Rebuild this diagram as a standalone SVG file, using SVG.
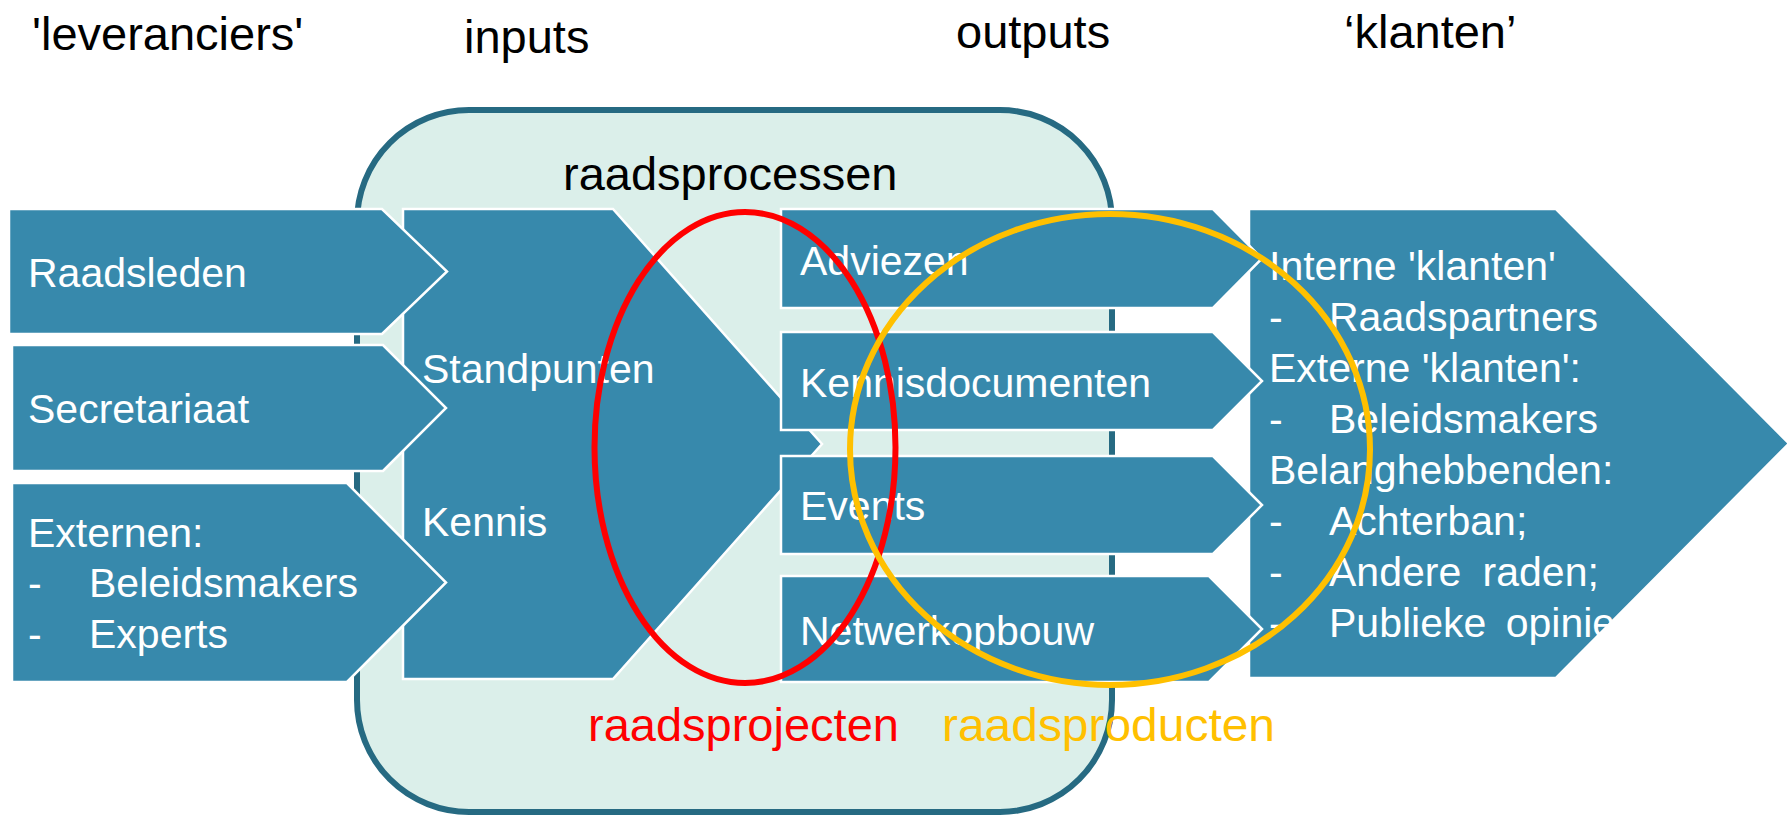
<svg xmlns="http://www.w3.org/2000/svg" width="1787" height="815" viewBox="0 0 1787 815">
<style>
.hdr{font-family:"Liberation Sans",Arial,sans-serif;font-size:47px;fill:#000}
.box{fill:#3789AC;stroke:#FFFFFF;stroke-width:2.5}
.t{font-family:"Liberation Sans",Arial,sans-serif;font-size:41px;fill:#FFFFFF}
.lbl{font-family:"Liberation Sans",Arial,sans-serif;font-size:47px}
</style>
<rect width="1787" height="815" fill="#FFFFFF"/>
<g id="headers">
<text class="hdr" x="32" y="50">'leveranciers'</text>
<text class="hdr" x="464" y="53" font-size="49">inputs</text>
<text class="hdr" x="956" y="48" font-size="49">outputs</text>
<text class="hdr" x="1344" y="48" font-size="48">‘klanten’</text>
</g>
<g id="raadsprocessen">
<rect x="357" y="110" width="755" height="702" rx="112" ry="112" fill="#DBEFEA" stroke="#266A82" stroke-width="6"/>
<text class="hdr" x="563" y="190">raadsprocessen</text>
</g>
<g id="inputs-block">
<path class="box" d="M403,209 L613,209 L822,444 L613,679 L403,679 Z"/>
<text class="t" x="422" y="383">Standpunten</text>
<text class="t" x="422" y="536">Kennis</text>
</g>
<g id="raadsleden">
<path class="box" d="M9,209 L382,209 L447,271.5 L382,334 L9,334 Z"/>
<text class="t" x="28" y="287">Raadsleden</text>
</g>
<g id="secretariaat">
<path class="box" d="M12,345 L383,345 L446,408 L383,471 L12,471 Z"/>
<text class="t" x="28" y="423">Secretariaat</text>
</g>
<g id="externen">
<path class="box" d="M12,483 L347,483 L446,582.5 L347,682 L12,682 Z"/>
<text class="t" x="28" y="547">Externen:</text>
<text class="t" x="28" y="597">-</text>
<text class="t" x="89" y="597">Beleidsmakers</text>
<text class="t" x="28" y="648">-</text>
<text class="t" x="89" y="648">Experts</text>
</g>
<g id="klanten">
<path class="box" d="M1249,209 L1556,209 L1789,443.5 L1556,678 L1249,678 Z"/>
<text class="t" x="1269" y="280">Interne 'klanten'</text>
<text class="t" x="1269" y="331">-</text>
<text class="t" x="1329" y="331">Raadspartners</text>
<text class="t" x="1269" y="382">Externe 'klanten':</text>
<text class="t" x="1269" y="433">-</text>
<text class="t" x="1329" y="433">Beleidsmakers</text>
<text class="t" x="1269" y="484">Belanghebbenden:</text>
<text class="t" x="1269" y="535">-</text>
<text class="t" x="1329" y="535">Achterban;</text>
<text class="t" x="1269" y="586">-</text>
<text class="t" x="1329" y="586" word-spacing="10">Andere raden;</text>
<text class="t" x="1269" y="637">-</text>
<text class="t" x="1329" y="637" word-spacing="8">Publieke opinie</text>
</g>
<g id="adviezen">
<path class="box" d="M781,209 L1213,209 L1262,258.5 L1213,308 L781,308 Z"/>
<text class="t" x="800" y="275">Adviezen</text>
</g>
<g id="kennisdocumenten">
<path class="box" d="M781,332 L1213,332 L1262,381 L1213,430 L781,430 Z"/>
<text class="t" x="800" y="397">Kennisdocumenten</text>
</g>
<g id="events">
<path class="box" d="M781,456 L1213,456 L1262,505 L1213,554 L781,554 Z"/>
<text class="t" x="800" y="520">Events</text>
</g>
<g id="netwerkopbouw">
<path class="box" d="M781,576 L1209,576 L1262,629 L1209,682 L781,682 Z"/>
<text class="t" x="800" y="645">Netwerkopbouw</text>
</g>
<g id="raadsprojecten">
<ellipse cx="745" cy="447.5" rx="150.5" ry="235.5" fill="none" stroke="#FF0000" stroke-width="6"/>
<text class="lbl" x="588" y="741" fill="#FF0000">raadsprojecten</text>
</g>
<g id="raadsproducten">
<ellipse cx="1110" cy="449.5" rx="260" ry="235.5" fill="none" stroke="#FFC000" stroke-width="6"/>
<text class="lbl" x="942" y="741" fill="#FFC000" font-size="45" textLength="333" lengthAdjust="spacingAndGlyphs">raadsproducten</text>
</g>
<g id="connectors"></g>
</svg>
